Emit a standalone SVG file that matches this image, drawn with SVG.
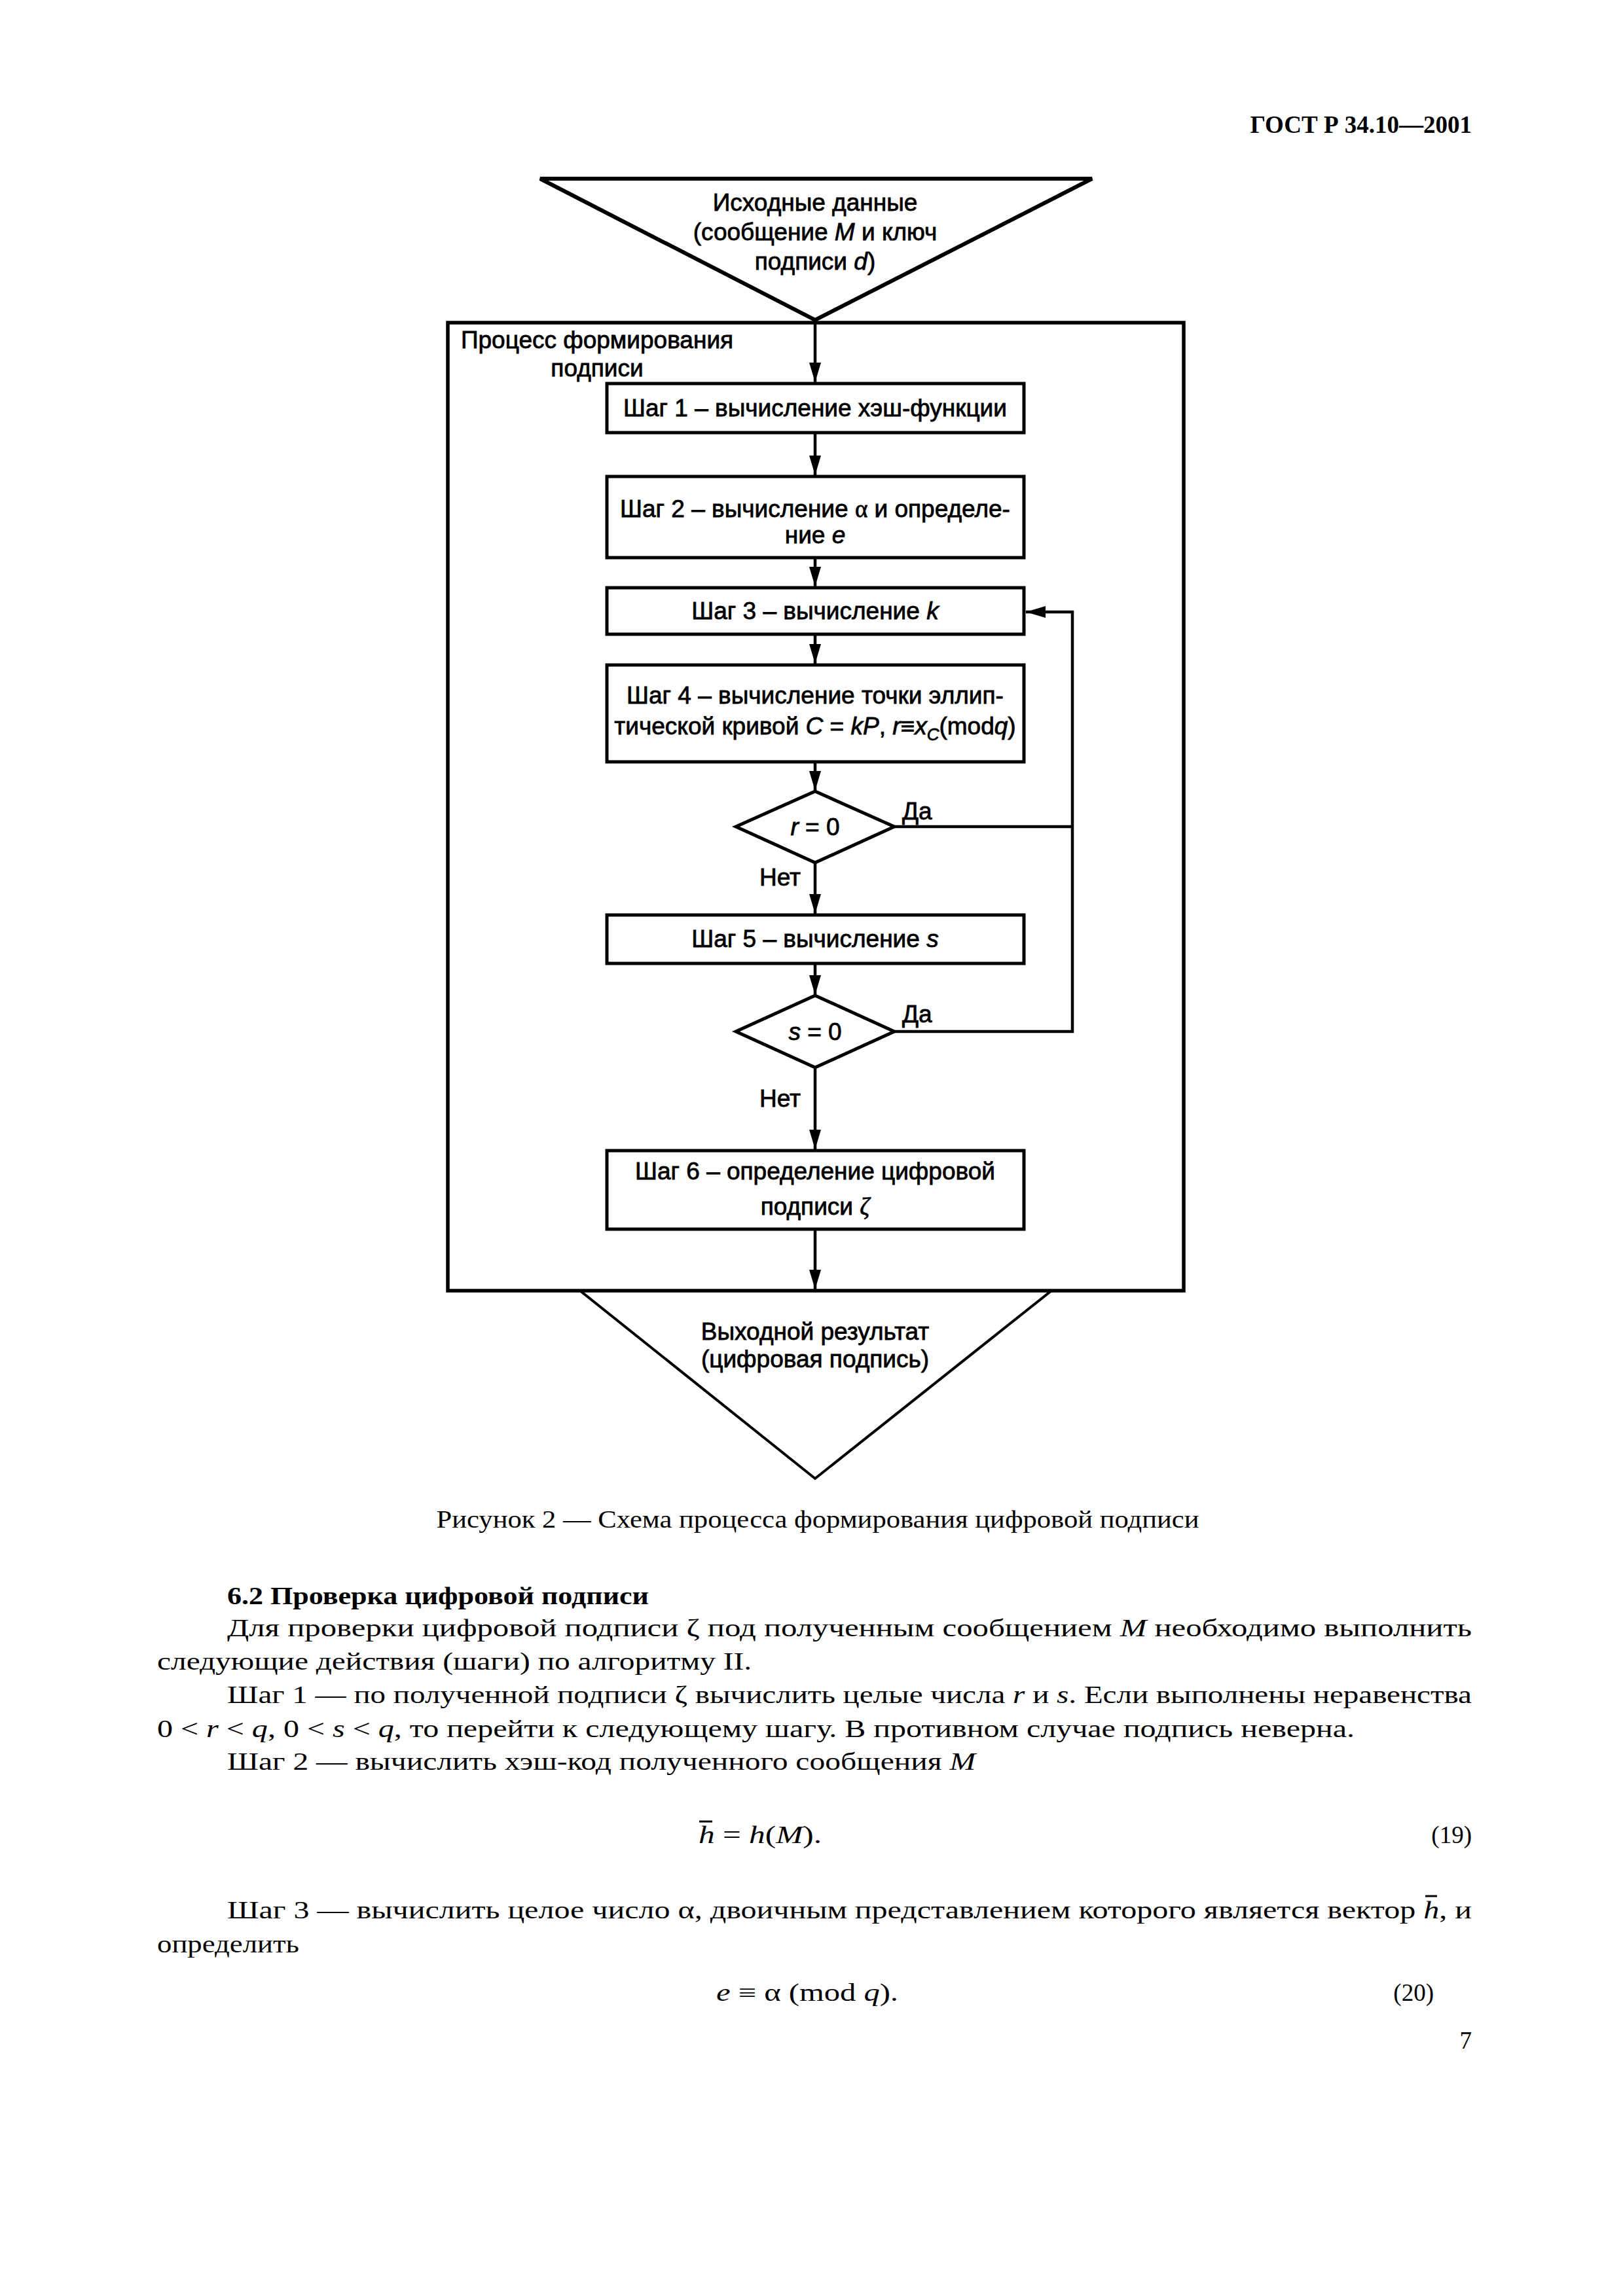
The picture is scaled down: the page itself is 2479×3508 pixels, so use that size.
<svg xmlns="http://www.w3.org/2000/svg" width="2479" height="3508" viewBox="0 0 2479 3508">
<style>
.bg{fill:#ffffff}
.box{fill:none;stroke:#000;stroke-width:5}
.tri{fill:none;stroke:#000;stroke-width:6;stroke-linejoin:miter}
.tri2{fill:none;stroke:#000;stroke-width:4;stroke-linejoin:miter}
.frame{fill:none;stroke:#000;stroke-width:5.5}
.con{fill:none;stroke:#000;stroke-width:4.5}
.t{font-family:"Liberation Sans",Arial,sans-serif;font-size:37px;fill:#000;stroke:#000;stroke-width:0.8;text-anchor:middle}
.tl{font-family:"Liberation Sans",Arial,sans-serif;font-size:37px;fill:#000;stroke:#000;stroke-width:0.8}
.i{font-style:italic}
.sym{font-family:"Liberation Serif","DejaVu Serif",serif}
.s{font-family:"Liberation Serif","Times New Roman",serif;font-size:37px;fill:#000}
.sb{font-family:"Liberation Serif","Times New Roman",serif;font-size:37px;font-weight:bold;fill:#000}
</style>
<defs>
<marker id="arr" markerUnits="userSpaceOnUse" markerWidth="30" markerHeight="18" refX="30" refY="9" orient="auto">
<path d="M0,0 L30,9 L0,18 z" fill="#000"/>
</marker>
</defs>
<rect class="bg" x="0" y="0" width="2479" height="3508"/>

<text class="sb" x="2248" y="203" font-size="44" text-anchor="end">ГОСТ Р 34.10—2001</text>

<g id="frame">
<rect class="frame" x="684" y="493" width="1124" height="1479"/>
<text class="t" x="912" y="532">Процесс формирования</text>
<text class="t" x="912" y="575">подписи</text>
</g>

<g id="input">
<polygon class="tri" points="825,273 1668,273 1245,489"/>
<text class="t" x="1245" y="322">Исходные данные</text>
<text class="t" x="1245" y="367">(сообщение <tspan class="i">M</tspan> и ключ</text>
<text class="t" x="1245" y="412">подписи <tspan class="i">d</tspan>)</text>
</g>

<g id="step1">
<rect class="box" x="927" y="586" width="637" height="75"/>
<text class="t" x="1245" y="636">Шаг 1 – вычисление хэш-функции</text>
</g>

<g id="step2">
<rect class="box" x="927" y="728" width="637" height="124"/>
<text class="t" x="1245" y="790">Шаг 2 – вычисление <tspan class="sym">α</tspan> и определе-</text>
<text class="t" x="1245" y="830">ние <tspan class="i">e</tspan></text>
</g>

<g id="step3">
<rect class="box" x="927" y="898" width="637" height="71"/>
<text class="t" x="1245" y="946">Шаг 3 – вычисление <tspan class="i">k</tspan></text>
</g>

<g id="step4">
<rect class="box" x="927" y="1016" width="637" height="148"/>
<text class="t" x="1245" y="1075">Шаг 4 – вычисление точки эллип-</text>
<text class="t" x="1245" y="1122">тической кривой <tspan class="i">C</tspan> = <tspan class="i">kP</tspan>, <tspan class="i">r</tspan>≡<tspan class="i">x</tspan><tspan class="i" font-size="26" dy="9">C</tspan><tspan dy="-9">(mod</tspan><tspan class="i">q</tspan>)</text>
</g>

<g id="dec_r">
<polygon class="box" points="1245,1209 1366,1263 1245,1318 1124,1263"/>
<text class="t" x="1245" y="1276"><tspan class="i">r</tspan> = 0</text>
</g>

<g id="step5">
<rect class="box" x="927" y="1398" width="637" height="74"/>
<text class="t" x="1245" y="1447">Шаг 5 – вычисление <tspan class="i">s</tspan></text>
</g>

<g id="dec_s">
<polygon class="box" points="1245,1521 1366,1576 1245,1631 1124,1576"/>
<text class="t" x="1245" y="1589"><tspan class="i">s</tspan> = 0</text>
</g>

<g id="step6">
<rect class="box" x="927" y="1758" width="637" height="120"/>
<text class="t" x="1245" y="1802">Шаг 6 – определение цифровой</text>
<text class="t" x="1245" y="1856">подписи <tspan class="sym i">ζ</tspan></text>
</g>

<g id="output">
<polygon class="tri2" points="886,1972 1606,1972 1245,2259"/>
<text class="t" x="1245" y="2047">Выходной результат</text>
<text class="t" x="1245" y="2089">(цифровая подпись)</text>
</g>

<g id="connectors">
<path class="con" d="M1245,489 V584" marker-end="url(#arr)"/>
<path class="con" d="M1245,661 V726" marker-end="url(#arr)"/>
<path class="con" d="M1245,852 V896" marker-end="url(#arr)"/>
<path class="con" d="M1245,969 V1014" marker-end="url(#arr)"/>
<path class="con" d="M1245,1164 V1208" marker-end="url(#arr)"/>
<path class="con" d="M1245,1318 V1396" marker-end="url(#arr)"/>
<path class="con" d="M1245,1472 V1520" marker-end="url(#arr)"/>
<path class="con" d="M1245,1631 V1756" marker-end="url(#arr)"/>
<path class="con" d="M1245,1878 V1970" marker-end="url(#arr)"/>
<path class="con" d="M1366,1263 H1638"/>
<path class="con" d="M1366,1576 H1638 V935 H1567" marker-end="url(#arr)"/>
<text class="tl" x="1378" y="1252">Да</text>
<text class="tl" x="1378" y="1562">Да</text>
<text class="tl" x="1223" y="1353" text-anchor="end">Нет</text>
<text class="tl" x="1223" y="1691" text-anchor="end">Нет</text>
</g>

<text class="s" x="1249" y="2334" font-size="34" text-anchor="middle" textLength="1165" lengthAdjust="spacingAndGlyphs">Рисунок 2 — Схема процесса формирования цифровой подписи</text>

<g id="body">
<text class="sb" x="347" y="2451" textLength="644" lengthAdjust="spacingAndGlyphs">6.2 Проверка цифровой подписи</text>
<text class="s" x="347" y="2500" textLength="1901" lengthAdjust="spacingAndGlyphs">Для проверки цифровой подписи ζ под полученным сообщением <tspan class="i">M</tspan> необходимо выполнить</text>
<text class="s" x="240" y="2551" textLength="908" lengthAdjust="spacingAndGlyphs">следующие действия (шаги) по алгоритму II.</text>
<text class="s" x="347" y="2602" textLength="1901" lengthAdjust="spacingAndGlyphs">Шаг 1 — по полученной подписи ζ вычислить целые числа <tspan class="i">r</tspan> и <tspan class="i">s</tspan>. Если выполнены неравенства</text>
<text class="s" x="240" y="2654" textLength="1829" lengthAdjust="spacingAndGlyphs">0 &lt; <tspan class="i">r</tspan> &lt; <tspan class="i">q</tspan>, 0 &lt; <tspan class="i">s</tspan> &lt; <tspan class="i">q</tspan>, то перейти к следующему шагу. В противном случае подпись неверна.</text>
<text class="s" x="347" y="2704" textLength="1143" lengthAdjust="spacingAndGlyphs">Шаг 2 — вычислить хэш-код полученного сообщения <tspan class="i">M</tspan></text>
<text class="s" x="1067" y="2816" textLength="188" lengthAdjust="spacingAndGlyphs"><tspan class="i">h</tspan> = <tspan class="i">h</tspan>(<tspan class="i">M</tspan>).</text>
<line x1="1068" y1="2783" x2="1088" y2="2783" stroke="#000" stroke-width="3"/>
<text class="s" x="2248" y="2816" text-anchor="end">(19)</text>
<text class="s" x="347" y="2931" textLength="1901" lengthAdjust="spacingAndGlyphs">Шаг 3 — вычислить целое число α, двоичным представлением которого является вектор <tspan class="i">h</tspan>, и</text>
<line x1="2177" y1="2897" x2="2195" y2="2897" stroke="#000" stroke-width="3"/>
<text class="s" x="240" y="2983" textLength="217" lengthAdjust="spacingAndGlyphs">определить</text>
<text class="s" x="1094" y="3057" textLength="278" lengthAdjust="spacingAndGlyphs"><tspan class="i">e</tspan> ≡ α (mod <tspan class="i">q</tspan>).</text>
<text class="s" x="2190" y="3057" text-anchor="end">(20)</text>
<text class="s" x="2248" y="3130" text-anchor="end">7</text>
</g>
</svg>
